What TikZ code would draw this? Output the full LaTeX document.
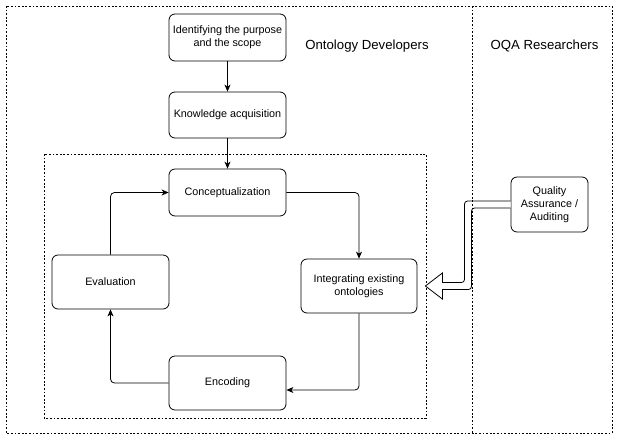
\documentclass[tikz,border=0pt]{standalone}
\usepackage{fontspec}
\setmainfont{Liberation Sans}
\usetikzlibrary{arrows.meta,calc}
\begin{document}
\begin{tikzpicture}[x=1pt,y=-1pt,
  box/.style={draw, line width=0.8pt, rounded corners=6pt, align=center, font=\fontsize{10.8}{13}\selectfont, inner sep=2pt},
  arr/.style={line width=0.8pt, -{Stealth[length=7pt,width=6pt,inset=2pt]}, rounded corners=4pt},
  frame/.style={line width=0.6pt, dash pattern=on 1.8pt off 1.8pt},
  lbl/.style={font=\fontsize{13.2}{15}\selectfont}]
\useasboundingbox (0,0) rectangle (618,440);
% frames
\draw[frame] (6,6) rectangle (612,433);
\draw[frame] (44,154) rectangle (426,418);
% nodes
\node[box, minimum width=117pt, minimum height=47pt] (ident) at (227.5,37.5) {Identifying the purpose\\and the scope};
\node[box, minimum width=117pt, minimum height=46pt] (know) at (227.5,115) {Knowledge acquisition};
\node[box, minimum width=117pt, minimum height=47pt] (concept) at (227.5,192.5) {Conceptualization};
\node[box, minimum width=117pt, minimum height=54pt] (eval) at (110.5,282) {Evaluation};
\node[box, minimum width=116pt, minimum height=54pt] (integ) at (359,286) {Integrating existing\\ontologies};
\node[box, minimum width=117pt, minimum height=54pt] (enc) at (227.5,383) {Encoding};
\node[box, minimum width=77pt, minimum height=55pt] (qa) at (549.5,204.5) {Quality\\Assurance /\\Auditing};
\node[lbl] (dev) at (367,46) {Ontology Developers};
\node[lbl] (oqa) at (544.5,46) {OQA Researchers};
% connectors
\draw[arr] (ident) -- (know);
\draw[arr] (know) -- (concept);
\draw[arr] (concept.east) -| (integ.north);
\draw[arr] (integ.south) |- ($(enc.east)+(0,7)$);
\draw[arr] (enc.west) -| (eval.south);
\draw[arr] (eval.north) |- (concept.west);
% hollow arrow
\draw[line width=0.8pt, fill=white, line join=miter]
  ($(qa.west)+(0,-3.5)$) [rounded corners=3pt] -- (464.5,201) -- (464.5,282.5) [sharp corners]
  -- ($(integ.east)+(25,-3.5)$) -- ($(integ.east)+(25,-13)$) -- ($(integ.east)+(8,0)$)
  -- ($(integ.east)+(25,13)$) -- ($(integ.east)+(25,3.5)$) [rounded corners=3pt]
  -- (471.5,289.5) -- (471.5,208) [sharp corners] -- ($(qa.west)+(0,3.5)$);
\draw[frame] (472.5,6) -- (472.5,433);
\end{tikzpicture}
\end{document}
